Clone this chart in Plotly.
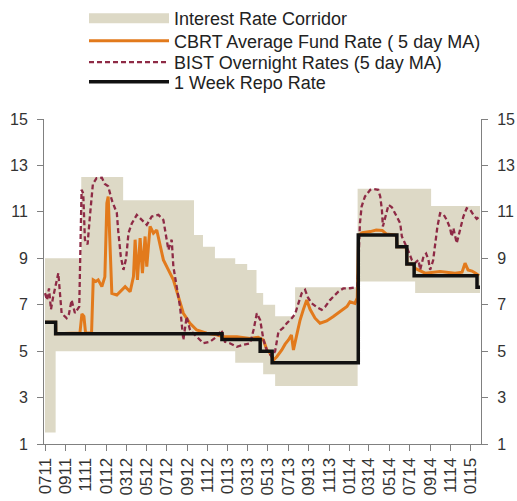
import plotly.graph_objects as go

# ---------------- data ----------------
corr_upper_dates = ["2011-07-01", "2011-10-18", "2012-02-21", "2012-09-21", "2012-10-18",
                    "2012-11-23", "2013-01-23", "2013-02-28", "2013-03-28", "2013-04-17",
                    "2013-05-23", "2013-07-22", "2014-01-26", "2014-09-04", "2015-01-29"]
corr_upper = [9.0, 12.5, 11.5, 10.0, 9.5, 9.0, 8.75, 8.5, 7.5, 7.0, 6.5, 7.75, 12.0, 11.25, 11.25]

corr_lower_dates = ["2011-07-01", "2011-08-02", "2013-01-23", "2013-04-17", "2013-05-23",
                    "2014-01-26", "2014-07-18", "2015-01-29"]
corr_lower = [1.5, 5.0, 4.5, 4.0, 3.5, 8.0, 7.5, 7.5]

repo_dates = ["2011-07-01", "2011-08-02", "2012-12-14", "2013-04-08", "2013-05-14",
              "2014-01-28", "2014-05-24", "2014-06-23", "2014-07-15", "2015-01-20", "2015-01-29"]
repo = [6.25, 5.75, 5.5, 5.0, 4.5, 10.0, 9.5, 8.75, 8.25, 7.75, 7.75]

cbrt_dates = ["2011-07-01", "2011-08-02", "2011-08-03", "2011-10-14", "2011-10-20", "2011-10-26",
              "2011-10-31", "2011-11-18", "2011-11-23", "2011-12-01", "2011-12-08", "2011-12-19",
              "2011-12-28", "2012-01-03", "2012-01-07", "2012-01-13", "2012-01-18", "2012-02-02",
              "2012-02-15", "2012-02-27", "2012-03-13", "2012-03-23", "2012-03-28", "2012-04-04",
              "2012-04-12", "2012-04-19", "2012-04-27", "2012-05-02", "2012-05-12", "2012-05-22",
              "2012-06-01", "2012-06-11", "2012-06-21", "2012-07-06", "2012-07-21", "2012-08-05",
              "2012-08-20", "2012-09-09", "2012-09-29", "2012-10-29", "2012-11-28", "2012-12-18",
              "2013-01-28", "2013-03-09", "2013-04-02", "2013-04-18", "2013-04-28", "2013-05-08",
              "2013-05-18", "2013-05-28", "2013-06-12", "2013-06-22", "2013-07-02", "2013-07-11",
              "2013-07-17", "2013-07-27", "2013-08-06", "2013-08-16", "2013-08-26", "2013-09-05",
              "2013-09-20", "2013-10-05", "2013-10-25", "2013-11-14", "2013-12-04", "2013-12-25",
              "2014-01-03", "2014-01-18", "2014-01-25", "2014-01-29", "2014-02-09", "2014-03-05",
              "2014-03-23", "2014-04-10", "2014-04-22", "2014-05-22", "2014-05-25", "2014-06-21",
              "2014-06-24", "2014-07-12", "2014-07-18", "2014-08-02", "2014-08-17", "2014-10-01",
              "2014-11-15", "2014-12-06", "2014-12-15", "2014-12-24", "2015-01-05", "2015-01-17",
              "2015-01-26"]
cbrt = [6.25, 6.25, 5.75, 5.78, 6.6, 6.5,
        5.78, 5.78, 8.07, 8.0, 8.07, 7.78,
        8.2, 11.37, 11.66, 9.07, 7.49, 7.42,
        7.6, 7.78, 7.56, 8.21, 9.8, 8.07,
        9.87, 8.36, 9.94, 8.64, 10.37, 10.08,
        10.22, 9.5, 8.93, 8.5, 8.07, 7.35,
        6.63, 6.2, 5.91, 5.77, 5.7, 5.62,
        5.62, 5.55, 5.6, 5.48, 5.05, 4.91,
        4.62, 4.76, 5.05, 5.3, 5.48, 5.7,
        5.05, 5.7, 6.34, 6.8, 7.2, 6.8,
        6.42, 6.2, 6.3, 6.49, 6.7, 6.92,
        7.13, 7.06, 7.3, 10.0, 10.1, 10.15,
        10.22, 10.2, 10.05, 10.0, 9.5, 9.5,
        8.75, 8.75, 8.57, 8.45, 8.36, 8.43,
        8.36, 8.4, 8.79, 8.5, 8.45, 8.35,
        8.25]

bist_dates = ["2011-07-01", "2011-07-07", "2011-07-13", "2011-07-19", "2011-07-25", "2011-08-10",
              "2011-08-20", "2011-09-04", "2011-09-11", "2011-09-19", "2011-09-29", "2011-10-12",
              "2011-10-19", "2011-10-24", "2011-10-29", "2011-11-06", "2011-11-13", "2011-11-22",
              "2011-12-03", "2011-12-19", "2011-12-28", "2012-01-07", "2012-01-18", "2012-02-02",
              "2012-02-06", "2012-02-14", "2012-02-22", "2012-03-01", "2012-03-08", "2012-03-18",
              "2012-04-02", "2012-04-17", "2012-05-02", "2012-05-17", "2012-06-06", "2012-06-21",
              "2012-06-29", "2012-07-06", "2012-07-16", "2012-07-21", "2012-07-31", "2012-08-10",
              "2012-08-20", "2012-08-30", "2012-09-09", "2012-09-29", "2012-10-19", "2012-11-08",
              "2012-11-28", "2012-12-13", "2012-12-23", "2013-01-07", "2013-01-28", "2013-02-16",
              "2013-03-09", "2013-03-19", "2013-03-29", "2013-04-08", "2013-04-18", "2013-04-28",
              "2013-05-13", "2013-05-23", "2013-06-02", "2013-06-16", "2013-06-27", "2013-07-12",
              "2013-07-22", "2013-08-01", "2013-08-11", "2013-08-21", "2013-08-30", "2013-09-10",
              "2013-09-25", "2013-10-10", "2013-10-20", "2013-11-04", "2013-11-14", "2013-11-29",
              "2013-12-14", "2014-01-03", "2014-01-18", "2014-01-26", "2014-02-02", "2014-02-07",
              "2014-02-17", "2014-03-05", "2014-03-15", "2014-03-29", "2014-04-04", "2014-04-09",
              "2014-04-12", "2014-04-19", "2014-04-29", "2014-05-09", "2014-05-19", "2014-05-28",
              "2014-06-03", "2014-06-08", "2014-06-18", "2014-06-28", "2014-07-08", "2014-07-18",
              "2014-07-28", "2014-08-02", "2014-08-12", "2014-08-20", "2014-08-27", "2014-09-01",
              "2014-09-10", "2014-09-16", "2014-09-23", "2014-10-01", "2014-10-11", "2014-10-21",
              "2014-10-31", "2014-11-05", "2014-11-10", "2014-11-20", "2014-11-30", "2014-12-10",
              "2014-12-20", "2014-12-30", "2015-01-09", "2015-01-19", "2015-01-27"]
bist = [7.5, 7.2, 7.7, 6.8, 7.3, 8.36,
        6.63, 6.42, 6.6, 7.2, 6.64, 6.92,
        11.95, 11.8, 9.8, 9.6, 10.8, 12.2,
        12.45, 12.47, 12.2, 12.1, 11.5, 10.95,
        10.2, 9.07, 8.5, 9.0, 10.08, 10.5,
        10.87, 10.65, 10.44, 10.8, 10.87, 10.65,
        9.94, 9.36, 9.8, 8.64, 7.78, 6.92,
        5.48, 6.49, 5.91, 5.62, 5.34, 5.41,
        5.62, 5.91, 5.4, 5.34, 5.19, 5.27,
        5.34, 5.91, 6.63, 6.34, 5.48, 5.05,
        4.76, 5.0, 5.84, 6.0, 6.2, 6.42,
        6.6, 7.06, 7.5, 7.64, 7.3, 7.06,
        6.9, 6.78, 6.9, 7.2, 7.35, 7.56,
        7.7, 7.71, 7.75, 7.8, 10.51, 11.23,
        11.66, 11.95, 11.98, 11.95, 11.66, 11.09,
        10.37, 10.8, 11.3, 11.2, 10.94, 10.7,
        10.51, 9.94, 9.65, 9.3, 8.93, 8.8,
        8.93, 8.5, 9.07, 9.2, 8.93, 8.5,
        8.9, 9.65, 10.37, 10.94, 10.9, 10.65,
        10.3, 9.94, 10.3, 9.65, 10.22, 10.8,
        11.16, 11.1, 10.87, 10.7, 10.8]

y_ticks = [1, 3, 5, 7, 9, 11, 13, 15]
legend_names = ["Interest Rate Corridor", "CBRT Average Fund Rate ( 5 day MA)",
                "BIST Overnight Rates (5 day MA)", "1 Week Repo Rate"]

# ---------------- style ----------------
W, H = 517, 501
BAND = "#DDD9C6"
ORANGE = "#E27A1C"
DASH = "#8E2A45"
BLACK = "#111111"
AXIS = "#808080"
FONT = "Liberation Sans, Arial, sans-serif"

fig = go.Figure()

# legend-only entry for the corridor
fig.add_trace(go.Scatter(x=[None], y=[None], mode="lines", name=legend_names[0], legend="legend",
                         line=dict(color=BAND, width=11)))
# corridor band
fig.add_trace(go.Scatter(x=corr_lower_dates, y=corr_lower, mode="lines", line_shape="hv",
                         line=dict(width=0, color=BAND), showlegend=False, hoverinfo="skip"))
fig.add_trace(go.Scatter(x=corr_upper_dates, y=corr_upper, mode="lines", line_shape="hv",
                         line=dict(width=0, color=BAND), fill="tonexty", fillcolor=BAND,
                         showlegend=False, hoverinfo="skip"))

fig.add_trace(go.Scatter(x=cbrt_dates, y=cbrt, mode="lines", name=legend_names[1], legend="legend2",
                         line=dict(color=ORANGE, width=3)))
fig.add_trace(go.Scatter(x=bist_dates, y=bist, mode="lines", name=legend_names[2], legend="legend3",
                         line=dict(color=DASH, width=2.3, dash="5px,3px")))
fig.add_trace(go.Scatter(x=repo_dates, y=repo, mode="lines", line_shape="hv", name=legend_names[3],
                         legend="legend4", line=dict(color=BLACK, width=3.5)))
# helper so the right axis is drawn
fig.add_trace(go.Scatter(x=repo_dates[:1], y=repo[:1], yaxis="y2", mode="lines",
                         showlegend=False, hoverinfo="skip", line=dict(width=0)))


def legend_box(center_px):
    return dict(xref="container", yref="container", x=84 / W, y=1 - center_px / H,
                xanchor="left", yanchor="middle", font=dict(size=18, color="#222222"),
                itemwidth=80, bgcolor="rgba(0,0,0,0)", borderwidth=0)


axis_common = dict(showgrid=False, zeroline=False, showline=True, linecolor=AXIS, linewidth=1,
                   ticks="outside", ticklen=6, tickcolor=AXIS)

fig.update_layout(
    width=W, height=H,
    margin=dict(l=44, r=36, t=119, b=57, autoexpand=False),
    paper_bgcolor="white", plot_bgcolor="white",
    font=dict(family=FONT, size=17, color="#333333"),
    showlegend=True,
    legend=legend_box(18.5),
    legend2=legend_box(41),
    legend3=legend_box(62.5),
    legend4=legend_box(82),
    xaxis=dict(type="date", range=["2011-06-28", "2015-02-01"], tick0="2011-07-01", dtick="M2",
               tickformat="%m%y", tickangle=-90, tickfont=dict(size=17), **axis_common),
    yaxis=dict(range=[1, 15], tickvals=y_ticks, tickfont=dict(size=16), ticklabelstandoff=6,
               **axis_common),
    yaxis2=dict(range=[1, 15], tickvals=y_ticks, overlaying="y", side="right",
                tickfont=dict(size=16), ticklabelstandoff=6, **axis_common),
)

fig.write_html("out.html", config={"displayModeBar": False},
               post_script="document.body.style.margin='0px';")
